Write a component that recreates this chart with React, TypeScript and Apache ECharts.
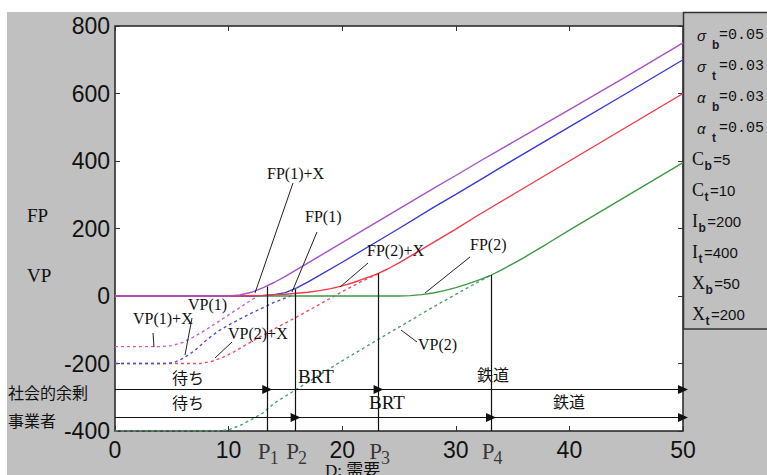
import React, { useEffect, useRef } from 'react';
import * as echarts from 'echarts';

// ---- data ----
const FP1X: number[][] = [[0,0],[10,0],[11,3],[12,11],[13,24],[14,40],[15,58],[16,78],[17,98],[18,118],[20,158],[22,198],[25,258],[28,318],[30,357],[32,397],[35,455],[40,552],[45,650],[50,750]];
const FP1: number[][] = [[0,0],[12,0],[13,1],[14,4],[15,10],[16,24],[17,42],[18,61],[20,100],[22,140],[25,200],[28,262],[30,301],[32,341],[35,402],[40,501],[45,600],[50,700]];
const FP2X: number[][] = [[0,0],[11,0],[13,2],[15,5],[17,11],[18,16],[19,22],[20,30],[21,40],[22,52],[23,64],[24,80],[25,98],[26,118],[28,158],[30,198],[32,240],[35,300],[40,400],[45,500],[50,600]];
const FP2: number[][] = [[0,0],[25,0],[26,1],[27,4],[28,9],[29,16],[30,25],[31,35],[32,47],[33,60],[34,77],[35,95],[36,114],[38,154],[40,195],[45,295],[50,395]];
const VP1X: number[][] = [[0,-150],[4,-150],[5,-147],[6,-137],[7,-120],[8,-100],[9,-78],[10,-56],[11,-34],[12,-12],[12.7,2]];
const VP1: number[][] = [[0,-200],[4.5,-200],[5.2,-197],[6,-185],[7,-162],[8,-132],[9,-106],[10,-86],[11,-68],[12,-51],[13,-35],[14,-19],[15,-6],[15.8,5]];
const VP2X: number[][] = [[0,-200],[7.5,-200],[8.5,-194],[9.5,-182],[10.5,-165],[11.5,-145],[12.5,-126],[14,-98],[16,-62],[18,-25],[20,13],[22,48],[23.2,66]];
const VP2: number[][] = [[0,-400],[9,-400],[10,-396],[11,-384],[12,-366],[13,-347],[14,-318],[16,-276],[20,-192],[24,-112],[28,-33],[30,5],[32,42],[33.1,62]];

const P_VALUES = [13.4, 15.9, 23.2, 33.1];
const P_NAMES = ['1', '2', '3', '4'];
const P_TOPS = [28, 20, 67, 62];

const ROW_SOCIAL = -277;
const ROW_OPERATOR = -360;
const SOCIAL_BREAKS = [0, P_VALUES[0], P_VALUES[2], 50];
const OPERATOR_BREAKS = [0, P_VALUES[1], P_VALUES[3], 50];

const PARAM_SYMBOLS = ['σ', 'σ', 'α', 'α', 'C', 'C', 'I', 'I', 'X', 'X'];
const PARAM_SUBS = ['b', 't', 'b', 't', 'b', 't', 'b', 't', 'b', 't'];
const PARAM_VALUES = ['0.05', '0.03', '0.03', '0.05', '5', '10', '200', '400', '50', '200'];

const X_TICKS = { min: 0, max: 50, interval: 10 };
const Y_TICKS = { min: -400, max: 800, interval: 200 };

const SERIF = '"Liberation Serif", "Times New Roman", serif';
const SANS = '"Liberation Sans", Arial, sans-serif';
const MONO = '"Liberation Mono", monospace';
const CJK = '"Noto Sans CJK JP", sans-serif';

function measure(text: string, font: string): number {
  const c = document.createElement('canvas').getContext('2d');
  if (!c) return text.length * 8;
  c.font = font;
  return c.measureText(text).width;
}

export default function App() {
  const ref = useRef<HTMLDivElement>(null);
  useEffect(() => {
    document.body.style.margin = '0';
    const chart = echarts.init(ref.current!, null, { renderer: 'svg' });

    const solid = (name: string, data: number[][], color: string) => ({
      type: 'line', name, data, showSymbol: false, symbol: 'none', smooth: false,
      lineStyle: { color, width: 1.4 }, silent: true, z: 3,
    });
    const dashed = (name: string, data: number[][], color: string) => ({
      type: 'line', name, data, showSymbol: false, symbol: 'none', smooth: false,
      lineStyle: { color, width: 1.4, type: [3, 3] }, silent: true, z: 2,
    });

    const arrowSegments = (breaks: number[], y: number) =>
      breaks.slice(0, -1).map((b, i) => [{ coord: [b, y] }, { coord: [breaks[i + 1], y] }]);

    const txt = (text: string, x: number, y: number, font: string, extra: any = {}) => ({
      type: 'text', x, y, z: 10,
      style: { text, font, fill: '#111', verticalAlign: 'middle', align: 'left', ...extra },
    });
    const lead = (x1: number, y1: number, x2: number, y2: number) => ({
      type: 'line', z: 10, shape: { x1, y1, x2, y2 }, style: { stroke: '#222', lineWidth: 1 },
    });

    // parameter box texts
    const legendTexts: any[] = [];
    PARAM_SYMBOLS.forEach((s, i) => {
      const greek = i < 4;
      const cy = 35 + i * 31;
      const mainFont = greek ? `italic 15px ${SANS}` : `18px ${SERIF}`;
      const subFont = `bold 12px ${SANS}`;
      const valFont = greek ? `15px ${MONO}` : `15px ${SANS}`;
      const mx = greek ? 697 : 692;
      const sx = greek ? 712 : mx + measure(s, mainFont) + 0.5;
      const vx = greek ? 719 : sx + measure(PARAM_SUBS[i], subFont) + 1.5;
      legendTexts.push(txt(s, mx, cy, mainFont));
      legendTexts.push(txt(PARAM_SUBS[i], sx, cy + (greek ? 10 : 7), subFont, { fill: '#1a1a2a' }));
      legendTexts.push(txt('=' + PARAM_VALUES[i], vx, cy, valFont));
    });

    const option: any = {
      animation: false,
      backgroundColor: '#c0c0c0',
      grid: { left: 115, right: 84, top: 26, bottom: 44, show: true, backgroundColor: '#fff', borderColor: '#222', borderWidth: 1.5 },
      xAxis: [
        {
          type: 'value', ...X_TICKS, position: 'bottom',
          axisLine: { show: false, onZero: false }, splitLine: { show: false },
          axisTick: { inside: true, length: 5, lineStyle: { color: '#333' } },
          axisLabel: { fontSize: 23, fontFamily: SANS, color: '#111', margin: 7 },
        },
        {
          type: 'value', ...X_TICKS, position: 'top',
          axisLine: { show: false, onZero: false }, splitLine: { show: false }, axisLabel: { show: false },
          axisTick: { inside: true, length: 5, lineStyle: { color: '#333' } },
        },
      ],
      yAxis: [
        {
          type: 'value', ...Y_TICKS, position: 'left',
          axisLine: { show: false, onZero: false }, splitLine: { show: false },
          axisTick: { inside: true, length: 5, lineStyle: { color: '#333' } },
          axisLabel: { fontSize: 23, fontFamily: SANS, color: '#111', margin: 5 },
        },
        {
          type: 'value', ...Y_TICKS, position: 'right',
          axisLine: { show: false, onZero: false }, splitLine: { show: false }, axisLabel: { show: false },
          axisTick: { inside: true, length: 5, lineStyle: { color: '#333' } },
        },
      ],
      series: [
        dashed('VP(2)', VP2, '#4f9f6a'),
        dashed('VP(2)+X', VP2X, '#ee4f60'),
        dashed('VP(1)', VP1, '#4d4fd6'),
        dashed('VP(1)+X', VP1X, '#d060b4'),
        solid('FP(2)', FP2, '#3d9a44'),
        solid('FP(1)', FP1, '#3838dc'),
        solid('FP(2)+X', FP2X, '#f03a48'),
        solid('FP(1)+X', FP1X, '#a852c8'),
        {
          type: 'line', name: 'guides', data: [], silent: true,
          markLine: {
            silent: true, symbol: ['none', 'none'], label: { show: false },
            lineStyle: { color: '#111', width: 1.2, type: 'solid' },
            data: P_VALUES.map((p, i) => [{ coord: [p, P_TOPS[i]] }, { coord: [p, Y_TICKS.min] }]),
          },
        },
        {
          type: 'line', name: 'arrows', data: [], silent: true,
          markLine: {
            silent: true, symbol: ['none', 'triangle'], symbolSize: [9, 10], label: { show: false },
            lineStyle: { color: '#111', width: 1.2, type: 'solid' },
            itemStyle: { color: '#111' },
            data: [...arrowSegments(SOCIAL_BREAKS, ROW_SOCIAL), ...arrowSegments(OPERATOR_BREAKS, ROW_OPERATOR)],
          },
        },
        {
          type: 'scatter', name: 'P', silent: true, symbolSize: 0,
          data: P_VALUES.map((p, i) => ({ value: [p, Y_TICKS.min], name: P_NAMES[i] })),
          label: {
            show: true, position: 'bottom', distance: 9, offset: [-3, 0],
            formatter: 'P', fontSize: 23, fontFamily: SERIF, color: '#111',
          },
        },
        {
          type: 'scatter', name: 'Psub', silent: true, symbolSize: 0,
          data: P_VALUES.map((p, i) => ({ value: [p, Y_TICKS.min], name: P_NAMES[i] })),
          label: {
            show: true, position: 'bottom', distance: 18, offset: [7, 0],
            formatter: (p: any) => p.name, fontSize: 18, fontFamily: SERIF, color: '#111',
          },
        },
      ],
      graphic: [
        { type: 'rect', shape: { x: 0, y: 0, width: 767, height: 12 }, style: { fill: '#fff' } },
        { type: 'rect', shape: { x: 0, y: 0, width: 7, height: 475 }, style: { fill: '#fff' } },
        { type: 'rect', shape: { x: 683.5, y: 12.5, width: 90, height: 316.5 }, style: { fill: '#c0c0c0', stroke: '#333', lineWidth: 1.5 } },
        ...legendTexts,
        txt('FP', 27, 215, `19px ${SERIF}`),
        txt('VP', 27, 275, `19px ${SERIF}`),
        txt('社会的余剰', 8, 392, `16px ${CJK}`),
        txt('事業者', 8, 420, `16px ${CJK}`),
        txt('待ち', 172, 377, `16px ${CJK}`),
        txt('待ち', 172, 402, `16px ${CJK}`),
        txt('BRT', 298, 376, `19px ${SERIF}`),
        txt('BRT', 369, 402, `19px ${SERIF}`),
        txt('鉄道', 477, 374, `16px ${CJK}`),
        txt('鉄道', 553, 401, `16px ${CJK}`),
        txt('FP(1)+X', 267, 173, `16px ${SERIF}`),
        txt('FP(1)', 305, 216, `16px ${SERIF}`),
        txt('FP(2)+X', 367, 250, `16px ${SERIF}`),
        txt('FP(2)', 470, 244, `16px ${SERIF}`),
        txt('VP(1)', 188, 304, `16px ${SERIF}`),
        txt('VP(1)+X', 133, 318, `16px ${SERIF}`),
        txt('VP(2)+X', 228, 333, `16px ${SERIF}`),
        txt('VP(2)', 418, 344, `16px ${SERIF}`),
        lead(293, 183, 255, 293),
        lead(317, 232, 292, 292),
        lead(368, 263, 340, 287),
        lead(470, 257, 425, 293),
        lead(192, 318, 185, 355),
        lead(153, 333, 154, 347),
        lead(232, 342, 215, 358),
        lead(401, 330, 417, 342),
        {
          type: 'text', x: 325, y: 462, z: 10,
          style: { text: 'D: 需要', font: `17px ${SERIF}, ${CJK}`, fill: '#111', verticalAlign: 'top' },
        },
      ],
    };
    chart.setOption(option);
    return () => chart.dispose();
  }, []);
  return <div ref={ref} style={{ position: 'absolute', left: 0, top: 0, width: 767, height: 475 }} />;
}
